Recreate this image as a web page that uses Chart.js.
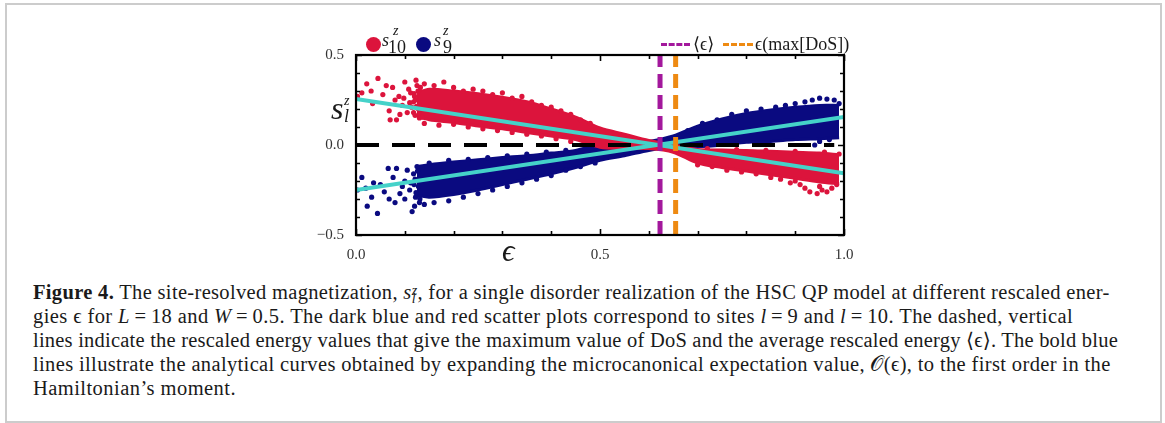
<!DOCTYPE html>
<html><head><meta charset="utf-8">
<script src="https://cdn.jsdelivr.net/npm/chart.js@4"></script>
<style>
html,body{margin:0;padding:0;background:#fff;}
body{width:1165px;height:423px;position:relative;overflow:hidden;font-family:"Liberation Serif","DejaVu Serif",serif;color:#1a1a1a;}
#frame{position:absolute;left:5px;top:3px;width:1153px;height:416px;border:2px solid #cccccc;}
#c{position:absolute;left:0;top:0;}
.abs{position:absolute;white-space:nowrap;line-height:1;}
.dot{position:absolute;width:15px;height:15px;border-radius:50%;}
.dash{position:absolute;height:0;border-top:3px dashed;}
.cap{position:absolute;left:33px;white-space:nowrap;font-size:20.5px;line-height:24px;}
.ss{display:inline-block;vertical-align:-0.32em;line-height:0.62;font-size:0.68em;text-align:left;}
.ss>span{display:block;}
</style></head>
<body>
<div id="frame"></div>
<canvas id="c" width="1165" height="275"></canvas>

<!-- legend (left) -->
<div class="dot" style="left:366px;top:37px;background:#dc143c"></div>
<div class="abs" style="left:382px;top:31px;font-size:18px"><i>s</i></div>
<div class="abs" style="left:393px;top:24px;font-size:14px"><i>z</i></div>
<div class="abs" style="left:388px;top:38px;font-size:18px">10</div>
<div class="dot" style="left:416px;top:37px;background:#0a0a80"></div>
<div class="abs" style="left:434px;top:31px;font-size:18px"><i>s</i></div>
<div class="abs" style="left:443px;top:24px;font-size:14px"><i>z</i></div>
<div class="abs" style="left:443px;top:38px;font-size:18px">9</div>
<!-- legend (right) -->
<div class="dash" style="left:661px;top:43px;width:29px;border-color:#a3189c"></div>
<div class="abs" style="left:693px;top:35px;font-size:18px">⟨ϵ⟩</div>
<div class="dash" style="left:723px;top:43px;width:30px;border-color:#ee8a12"></div>
<div class="abs" style="left:755px;top:35px;font-size:18px">ϵ(max[DoS])</div>
<!-- axis titles -->
<div class="abs" style="left:331px;top:92px;font-size:32px"><i>s</i></div>
<div class="abs" style="left:344px;top:94px;font-size:14px"><i>z</i></div>
<div class="abs" style="left:344px;top:107px;font-size:18px"><i>l</i></div>
<div class="abs" style="left:502px;top:235px;font-size:31px"><i>ϵ</i></div>

<!-- caption -->
<div class="cap" data-w="1077" style="top:280px"><b>Figure 4.</b> The site-resolved magnetization, <i>s</i><span class="ss"><span><i>z</i></span><span><i>l</i></span></span>, for a single disorder realization of the HSC QP model at different rescaled ener-</div>
<div class="cap" data-w="1040" style="top:304px">gies ϵ for <i>L</i>&#8201;=&#8201;18 and <i>W</i>&#8201;=&#8201;0.5. The dark blue and red scatter plots correspond to sites <i>l</i>&#8201;=&#8201;9 and <i>l</i>&#8201;=&#8201;10. The dashed, vertical</div>
<div class="cap" data-w="1085" style="top:328px">lines indicate the rescaled energy values that give the maximum value of DoS and the average rescaled energy ⟨ϵ⟩. The bold blue</div>
<div class="cap" data-w="1078" style="top:352px">lines illustrate the analytical curves obtained by expanding the microcanonical expectation value, 𝒪(ϵ), to the first order in the</div>
<div class="cap" data-w="203" style="top:376px">Hamiltonian’s moment.</div>

<script>
// ---- data ----
const bandEps  = [0.125,0.15,0.20,0.25,0.30,0.35,0.40,0.45,0.50,0.55,0.60,0.65,0.70,0.75,0.80,0.85,0.90,0.95,0.99];
const s10Upper = [0.29,0.31,0.30,0.285,0.265,0.24,0.20,0.155,0.095,0.06,0.025,0.00,-0.025,-0.028,-0.03,-0.035,-0.04,-0.045,-0.055];
const s10Lower = [0.16,0.14,0.125,0.105,0.09,0.07,0.05,0.03,-0.012,-0.018,-0.02,-0.04,-0.10,-0.125,-0.145,-0.165,-0.185,-0.205,-0.215];
const s9Upper  = [-0.12,-0.11,-0.095,-0.082,-0.07,-0.06,-0.045,-0.03,0.008,0.015,0.02,0.05,0.105,0.145,0.175,0.195,0.21,0.22,0.22];
const s9Lower  = [-0.28,-0.29,-0.275,-0.25,-0.22,-0.19,-0.16,-0.125,-0.085,-0.06,-0.03,-0.01,-0.01,0.0,0.015,0.02,0.03,0.035,0.04];

const s10Points = [[0.003,0.27],[0.012,0.29],[0.022,0.34],[0.031,0.30],[0.045,0.37],[0.055,0.28],[0.034,0.23],[0.068,0.19],[0.07,0.14],[0.083,0.14],
  [0.075,0.32],[0.088,0.27],[0.095,0.22],[0.1,0.35],[0.105,0.18],[0.112,0.29],[0.118,0.24],[0.062,0.33],[0.08,0.25],[0.09,0.17],[0.123,0.36],[0.13,0.15],
  [0.108,0.31],[0.114,0.21],[0.12,0.27],[0.118,0.18],[0.098,0.26],[0.125,0.33],[0.11,0.235],
  [0.127,0.30],[0.122,0.25],[0.128,0.20],[0.121,0.165],[0.132,0.32],[0.136,0.155],[0.119,0.285],[0.124,0.215],
  [0.14,0.34],[0.16,0.33],[0.18,0.35],[0.2,0.32],[0.22,0.30],[0.24,0.31],[0.26,0.30],[0.28,0.28],[0.3,0.29],[0.32,0.26],[0.34,0.27],[0.36,0.24],
  [0.38,0.22],[0.40,0.21],[0.42,0.19],[0.44,0.17],[0.46,0.14],[0.48,0.12],
  [0.14,0.12],[0.17,0.11],[0.2,0.115],[0.23,0.10],[0.26,0.09],[0.29,0.08],[0.32,0.07],[0.35,0.06],[0.38,0.05],[0.41,0.035],[0.44,0.02],
  [0.70,-0.11],[0.73,-0.12],[0.76,-0.14],[0.79,-0.15],[0.82,-0.16],[0.85,-0.18],[0.87,-0.19],[0.89,-0.21],[0.91,-0.22],[0.92,-0.24],[0.93,-0.26],
  [0.945,-0.27],[0.955,-0.25],[0.965,-0.26],[0.975,-0.24],[0.985,-0.22],[0.95,-0.23],[0.9,-0.2],[0.97,-0.2],
  [0.72,-0.02],[0.78,-0.025],[0.84,-0.03],[0.9,-0.035],[0.96,-0.04],[0.99,-0.05]];
const s9Points = [[0.012,-0.18],[0.023,-0.34],[0.032,-0.29],[0.044,-0.38],[0.066,-0.13],[0.083,-0.13],[0.076,-0.18],[0.08,-0.32],[0.12,-0.34],
  [0.058,-0.26],[0.02,-0.24],[0.05,-0.22],[0.1,-0.2],[0.09,-0.27],[0.115,-0.37],[0.036,-0.21],[0.068,-0.30],[0.003,-0.25],[0.105,-0.14],[0.13,-0.32],
  [0.11,-0.25],[0.118,-0.16],[0.122,-0.29],[0.1,-0.3],[0.112,-0.21],[0.095,-0.23],[0.125,-0.12],
  [0.126,-0.145],[0.121,-0.19],[0.128,-0.23],[0.123,-0.265],[0.131,-0.3],[0.135,-0.125],[0.119,-0.22],
  [0.14,-0.33],[0.16,-0.32],[0.19,-0.31],[0.22,-0.29],[0.25,-0.27],[0.28,-0.25],[0.31,-0.23],[0.34,-0.21],[0.37,-0.19],[0.40,-0.17],[0.43,-0.14],
  [0.46,-0.12],[0.49,-0.10],
  [0.15,-0.10],[0.19,-0.085],[0.23,-0.08],[0.27,-0.07],[0.31,-0.06],[0.35,-0.05],[0.39,-0.04],[0.43,-0.03],
  [0.68,0.08],[0.71,0.12],[0.74,0.14],[0.77,0.17],[0.8,0.19],[0.83,0.2],[0.86,0.21],[0.88,0.22],[0.9,0.23],[0.92,0.24],[0.935,0.25],
  [0.95,0.26],[0.965,0.255],[0.98,0.25],[0.99,0.23],[0.94,0.0],[0.95,0.02],[0.97,0.03]];

const fitEps   = [0, 1];
const fitS10   = [0.256, -0.157];
const fitS9    = [-0.25, 0.155];
const zeroEps  = [0, 0.98];
const zeroVal  = [0, 0];
const epsAvg   = 0.623;   // <eps>
const epsDoS   = 0.655;   // eps(max[DoS])
const vRange   = [-0.5, 0.5];
const xLabels  = [0, 0.5, 1];
const yLabels  = [-0.5, 0, 0.5];

// ---- chart ----
const RED = '#dc143c', NAVY = '#0a0a80', CYAN = '#45d2c9', PURPLE = '#a3189c', ORANGE = '#ee8a12';
const pts = (xs, ys) => xs.map((x, i) => ({x, y: ys[i]}));
const pairs = arr => arr.map(p => ({x: p[0], y: p[1]}));
const near = (v, list) => list.some(l => Math.abs(v - l) < 1e-6);
const fmt = v => (v < 0 ? '\u2212' : '') + Math.abs(v).toFixed(1);

const band = (ys, color, order, fill) => ({
  data: pts(bandEps, ys), showLine: true, pointRadius: 0, borderColor: color, borderWidth: 3,
  backgroundColor: color, fill: fill, tension: 0.3, order
});

const tickPlugin = {
  id: 'boxTicks',
  afterDatasetsDraw(chart) {
    const {ctx, chartArea: a, scales: {x, y}} = chart;
    ctx.save();
    ctx.strokeStyle = '#000';
    ctx.lineWidth = 1.6;
    ctx.beginPath();
    x.ticks.forEach(t => {
      const px = Math.round(x.getPixelForValue(t.value)) + 0.5;
      const L = near(t.value, xLabels) ? 6 : 4;
      ctx.moveTo(px, a.bottom); ctx.lineTo(px, a.bottom - L);
      ctx.moveTo(px, a.top); ctx.lineTo(px, a.top + L);
    });
    y.ticks.forEach(t => {
      const py = Math.round(y.getPixelForValue(t.value)) + 0.5;
      const L = near(t.value, yLabels) ? 6 : 4;
      ctx.moveTo(a.left, py); ctx.lineTo(a.left + L, py);
      ctx.moveTo(a.right, py); ctx.lineTo(a.right - L, py);
    });
    ctx.stroke();
    ctx.lineWidth = 2.2;
    ctx.strokeRect(a.left, a.top, a.right - a.left, a.bottom - a.top);
    ctx.restore();
  }
};

new Chart(document.getElementById('c'), {
  type: 'scatter',
  data: {
    datasets: [
      band(s10Upper, RED, 8, false),
      band(s10Lower, RED, 7, '-1'),
      band(s9Upper, NAVY, 11, false),
      band(s9Lower, NAVY, 10, '-1'),
      {data: pairs(s10Points), pointRadius: 2.6, pointBorderWidth: 0, backgroundColor: RED, order: 6},
      {data: pairs(s9Points), pointRadius: 2.6, pointBorderWidth: 0, backgroundColor: NAVY, order: 9},
      {data: pts(zeroEps, zeroVal), showLine: true, pointRadius: 0, borderColor: '#000', borderWidth: 4, borderDash: [23, 13], order: 5},
      {data: pts(fitEps, fitS10), showLine: true, pointRadius: 0, borderColor: CYAN, borderWidth: 4, order: 3},
      {data: pts(fitEps, fitS9), showLine: true, pointRadius: 0, borderColor: CYAN, borderWidth: 4, order: 4},
      {data: pts([epsAvg, epsAvg], vRange), showLine: true, pointRadius: 0, borderColor: PURPLE, borderWidth: 5, borderDash: [14, 7], order: 1},
      {data: pts([epsDoS, epsDoS], vRange), showLine: true, pointRadius: 0, borderColor: ORANGE, borderWidth: 5, borderDash: [14, 7], order: 2}
    ]
  },
  options: {
    responsive: false, animation: false, devicePixelRatio: 1,
    layout: {padding: {left: 306, right: 321, top: 55, bottom: 10}},
    plugins: {legend: {display: false}, tooltip: {enabled: false}},
    scales: {
      x: {
        type: 'linear', min: 0, max: 1,
        afterFit: s => { s.height = 30; },
        grid: {display: false}, border: {display: false},
        ticks: {stepSize: 0.1, autoSkip: false, maxRotation: 0, padding: 3, color: '#333',
          font: {family: 'Liberation Serif', size: 15},
          callback: v => near(v, xLabels) ? fmt(v) : ''}
      },
      y: {
        type: 'linear', min: -0.5, max: 0.5,
        afterFit: s => { s.width = 50; },
        grid: {display: false}, border: {display: false},
        ticks: {stepSize: 0.1, autoSkip: false, padding: 4, color: '#333',
          font: {family: 'Liberation Serif', size: 15},
          callback: v => near(v, yLabels) ? fmt(v) : ''}
      }
    }
  },
  plugins: [tickPlugin]
});

// fit caption lines to the widths measured on the reference
document.querySelectorAll('.cap[data-w]').forEach(el => {
  const target = +el.dataset.w;
  const w = el.getBoundingClientRect().width;
  const n = el.textContent.length;
  el.style.letterSpacing = ((target - w) / n) + 'px';
});
</script>
</body></html>
